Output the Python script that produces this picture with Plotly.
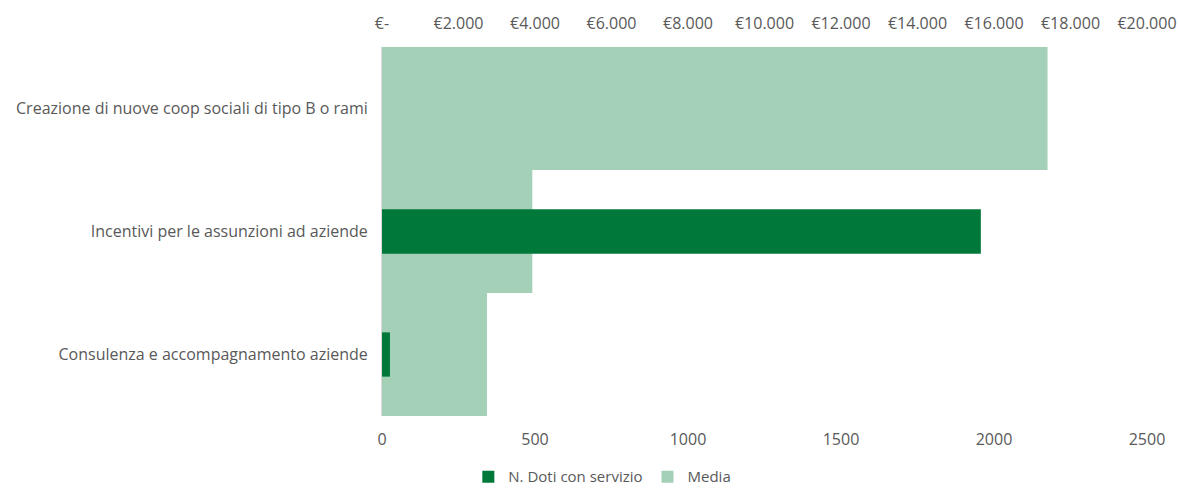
import plotly.graph_objects as go

# Categories listed bottom to top
categories = [
    "Consulenza e accompagnamento aziende",
    "Incentivi per le assunzioni ad aziende",
    "Creazione di nuove coop sociali di tipo B o rami",
]
n_doti = [26, 1957, 0]          # N. Doti con servizio (bottom axis)
media = [2745, 3930, 17400]     # Media in euro (top axis)

euro_ticks = [0, 2000, 4000, 6000, 8000, 10000, 12000, 14000, 16000, 18000, 20000]
euro_labels = ["€-", "€2.000", "€4.000", "€6.000", "€8.000", "€10.000",
               "€12.000", "€14.000", "€16.000", "€18.000", "€20.000"]
count_ticks = [0, 500, 1000, 1500, 2000, 2500]

DARK = "#00783A"
LIGHT = "#A5D0B8"
TEXT = "#595959"
FONT = "Open Sans"
FS = 16

fig = go.Figure()

# Average amount: full-width bars on the top euro axis (drawn underneath)
fig.add_trace(go.Bar(
    y=categories, x=media, orientation="h", name="Media",
    marker=dict(color=LIGHT, line=dict(width=0)), width=1.0,
    xaxis="x", yaxis="y", showlegend=True, legendrank=2,
))

# Number of doti: narrow bars on the bottom count axis (drawn on top)
fig.add_trace(go.Bar(
    y=categories, x=n_doti, orientation="h", name="N. Doti con servizio",
    marker=dict(color=DARK, line=dict(width=0)), width=0.36,
    xaxis="x2", yaxis="y", showlegend=True, legendrank=1,
))

fig.update_layout(
    width=1178, height=489,
    margin=dict(l=382, r=31, t=47, b=73, autoexpand=False),
    paper_bgcolor="white", plot_bgcolor="white",
    font=dict(family=FONT, size=FS, color=TEXT),
    barmode="overlay",
    xaxis=dict(
        side="top", range=[0, 20000], tickvals=euro_ticks, ticktext=euro_labels,
        showgrid=False, zeroline=False, showline=False, ticks="",
        ticklabelstandoff=14, tickfont=dict(size=FS, color=TEXT),
    ),
    xaxis2=dict(
        overlaying="x", side="bottom", range=[0, 2500], tickvals=count_ticks,
        showgrid=False, zeroline=False, showline=False, ticks="",
        ticklabelstandoff=12, tickfont=dict(size=FS, color=TEXT),
    ),
    yaxis=dict(
        range=[-0.5, 2.5], showgrid=False, zeroline=False,
        showline=True, linecolor="#D9D9D9", linewidth=1, ticks="",
        ticklabelstandoff=10, tickfont=dict(size=FS, color=TEXT),
    ),
    legend=dict(
        orientation="h", x=0.288, y=-0.165, xanchor="center", yanchor="middle",
        font=dict(size=15, color=TEXT), traceorder="normal",
        itemwidth=30,
    ),
)

fig.write_html("out.html")
